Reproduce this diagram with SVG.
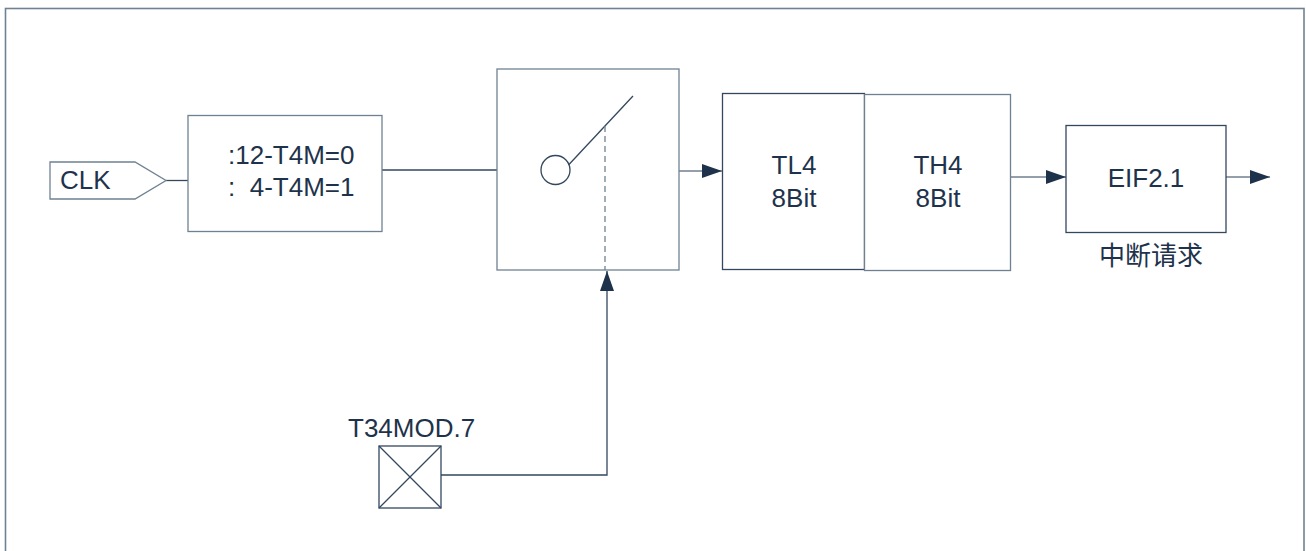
<svg xmlns="http://www.w3.org/2000/svg" width="1306" height="551" viewBox="0 0 1306 551">
<style>
.t{font-family:"Liberation Sans",Arial,"Noto Sans CJK SC",sans-serif;font-size:26px;fill:#1e334b}
.c{text-anchor:middle}
.box{fill:#fff;stroke:#33475e;stroke-width:1.3}
.lbox{fill:#fff;stroke:#6f8191;stroke-width:1.3}
.ln{fill:none;stroke:#33475e;stroke-width:1.3}
.gl{fill:none;stroke:#6f8191;stroke-width:1.3}
</style>
<defs>
<marker id="ah" markerUnits="userSpaceOnUse" markerWidth="20" markerHeight="14" refX="20" refY="7" orient="auto">
<path d="M0,0 L20,7 L0,14 z" fill="#1e334b"/>
</marker>
</defs>
<rect x="5.5" y="8.5" width="1298.5" height="560" fill="#fff" stroke="#708292" stroke-width="1.6"/>
<g id="connectors">
<line class="ln" x1="166" y1="180.5" x2="188" y2="180.5"/>
<line class="ln" x1="382" y1="170" x2="541" y2="170"/>
<line class="gl" x1="679" y1="171" x2="722" y2="171" marker-end="url(#ah)"/>
<line class="gl" x1="1010.5" y1="177" x2="1066" y2="177" marker-end="url(#ah)"/>
<line class="gl" x1="1226" y1="177" x2="1270" y2="177" marker-end="url(#ah)"/>
<polyline class="ln" points="441,475 607,475 607,271" marker-end="url(#ah)"/>
</g>
<g id="clk">
<polygon class="lbox" points="50,162 135,162 166,180.5 135,199 50,199"/>
<text class="t" x="60" y="188.5">CLK</text>
</g>
<g id="divider">
<rect class="lbox" x="188" y="115.5" width="194" height="116"/>
<text class="t" x="228" y="163.5">:12-T4M=0</text>
<text class="t" x="228" y="196" xml:space="preserve">:  4-T4M=1</text>
</g>
<g id="switch">
<rect class="lbox" x="497" y="69" width="182" height="201"/>
<circle class="ln" cx="555.5" cy="170" r="14.5"/>
<line class="ln" x1="568.5" y1="165" x2="633" y2="96"/>
<line x1="605" y1="126" x2="605" y2="270" stroke="#6f8191" stroke-width="1.3" stroke-dasharray="6,4"/>
</g>
<g id="tl4">
<rect class="box" x="722.5" y="93.5" width="142" height="176"/>
<text class="t c" x="794" y="173.5">TL4</text>
<text class="t c" x="794" y="207">8Bit</text>
</g>
<g id="th4">
<rect class="lbox" x="864.5" y="94.5" width="146" height="176"/>
<text class="t c" x="938" y="173.5">TH4</text>
<text class="t c" x="938" y="207">8Bit</text>
</g>
<g id="eif">
<rect class="box" x="1066" y="125.5" width="160" height="107"/>
<text class="t c" x="1146" y="187">EIF2.1</text>
<text class="t c" x="1151" y="264.5">中断请求</text>
</g>
<g id="t34mod">
<text class="t" x="348" y="436.5">T34MOD.7</text>
<rect class="box" x="379" y="446" width="62" height="62"/>
<line class="ln" x1="379" y1="446" x2="441" y2="508"/>
<line class="ln" x1="441" y1="446" x2="379" y2="508"/>
</g>
</svg>
